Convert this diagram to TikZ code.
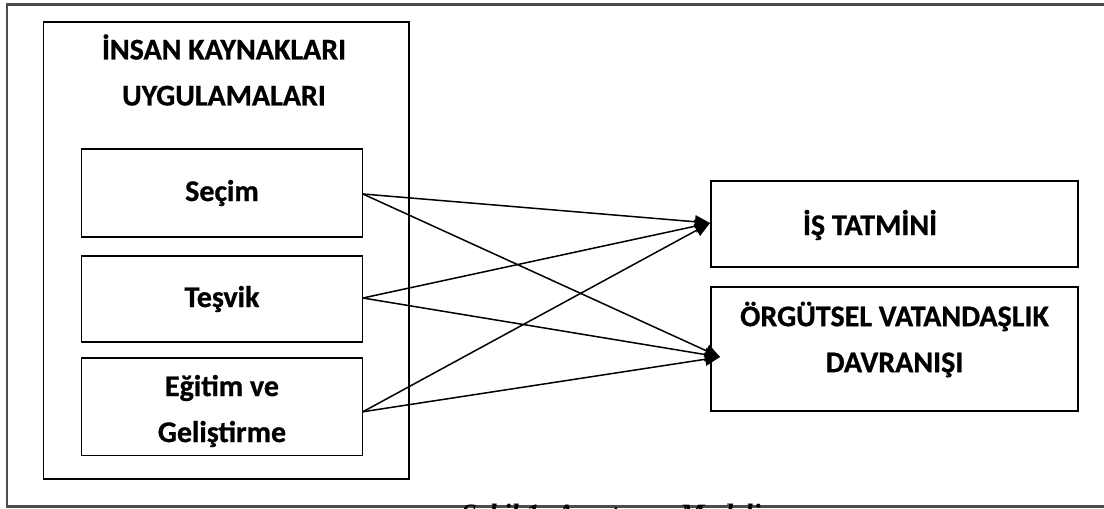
\documentclass[tikz,border=0pt]{standalone}
\usepackage{fontspec}
\setmainfont{Carlito}[BoldFeatures={FakeBold=0.8}]
\newfontfamily\capfont{Liberation Serif}
\usetikzlibrary{arrows.meta}
\begin{document}
\begin{tikzpicture}[x=1pt,y=-1pt,
  box/.style={draw=black,line width=1.3pt,inner sep=0pt},
  lbl/.style={font=\fontsize{30}{46}\selectfont\bfseries,align=center,inner sep=0pt},
  conn/.style={line width=1.5pt,-{Triangle[length=15pt,width=13pt]}}]
\useasboundingbox (0,0) rectangle (1104,509);
\begin{scope}
\clip (0,0) rectangle (1104,509);
% outer frame (right side beyond the picture)
\draw[line width=2.2pt,color=black!70] (1120,4.5) -- (7,4.5) -- (7,506.5) -- (1120,506.5);
% caption, cut off at the bottom
\node[font=\capfont\fontsize{28}{32}\selectfont\bfseries\itshape,anchor=base,inner sep=0pt] (cap) at (611,523) {Şekil 1. Araştırma Modeli};
\end{scope}
% left group
\node[box,minimum width=365.5pt,minimum height=457pt] (hr) at (226.25,250.5) {};
\node[lbl] (hrt) at (224,70) {İNSAN KAYNAKLARI\\UYGULAMALARI};
\node[box,minimum width=280.5pt,minimum height=88pt] (secim) at (222,193) {};
\node[lbl] at (secim) {Seçim};
\node[box,minimum width=280.5pt,minimum height=86pt] (tesvik) at (222,299) {};
\node[lbl] at (tesvik) {Teşvik};
\node[box,minimum width=280.5pt,minimum height=97.5pt] (egitim) at (222,406.75) {};
\node[lbl] at (222,411) {Eğitim ve\\Geliştirme};
% right group
\node[box,minimum width=367pt,minimum height=86pt] (is) at (894.5,224) {};
\node[lbl] at (870,225) {İŞ TATMİNİ};
\node[box,minimum width=367pt,minimum height=124pt] (ovd) at (894.5,349) {};
\node[lbl] at (894.5,339.5) {ÖRGÜTSEL VATANDAŞLIK\\DAVRANIŞI};
% arrow tips
\coordinate (tj) at (710,223);
\coordinate (to) at (720,357);
\coordinate (s1) at ([yshift=-1pt]secim.east);
\coordinate (s2) at ([yshift=1pt]tesvik.east);
\coordinate (s3) at ([yshift=-5pt]egitim.east);
\draw[conn] (s1) -- (tj);
\draw[conn] (s1) -- (to);
\draw[conn] (s2) -- (tj);
\draw[conn] (s2) -- (to);
\draw[conn] (s3) -- (tj);
\draw[conn] (s3) -- (to);
\end{tikzpicture}
\end{document}
